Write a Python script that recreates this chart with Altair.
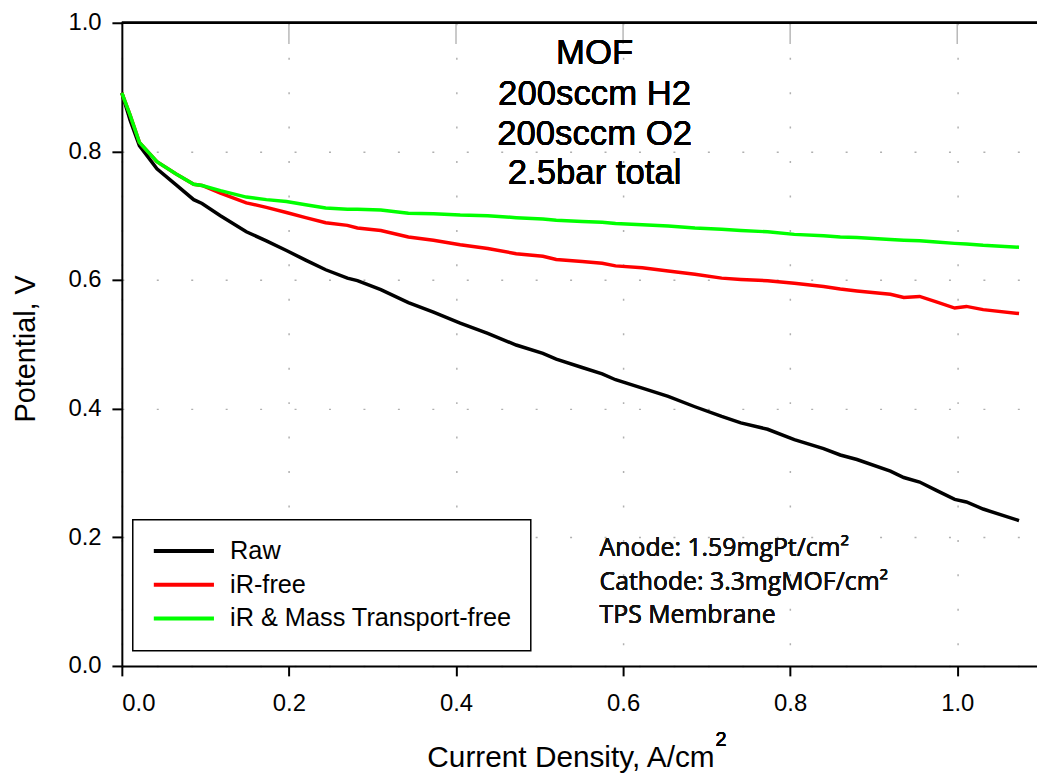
import altair as alt
import pandas as pd

# ---- data ----
current = [0.0, 0.01, 0.021, 0.042, 0.065, 0.086, 0.096, 0.118, 0.149, 0.173,
           0.197, 0.22, 0.244, 0.27, 0.282, 0.31, 0.343, 0.373, 0.405, 0.438,
           0.472, 0.504, 0.52, 0.551, 0.575, 0.591, 0.623, 0.654, 0.686, 0.718,
           0.741, 0.773, 0.805, 0.84, 0.86, 0.88, 0.92, 0.936, 0.955, 0.975,
           0.997, 1.011, 1.031, 1.074]
raw = [0.891, 0.848, 0.809, 0.773, 0.748, 0.725, 0.719, 0.700, 0.675, 0.661,
       0.646, 0.631, 0.616, 0.603, 0.599, 0.585, 0.565, 0.550, 0.533, 0.517,
       0.499, 0.486, 0.477, 0.464, 0.454, 0.445, 0.432, 0.419, 0.403, 0.388,
       0.378, 0.368, 0.352, 0.338, 0.328, 0.321, 0.303, 0.293, 0.286, 0.273,
       0.259, 0.255, 0.244, 0.226]
ir_free = [0.891, 0.856, 0.814, 0.784, 0.765, 0.749, 0.747, 0.735, 0.720, 0.713,
           0.705, 0.697, 0.689, 0.685, 0.681, 0.677, 0.667, 0.662, 0.655, 0.649,
           0.641, 0.637, 0.632, 0.629, 0.626, 0.622, 0.619, 0.614, 0.609, 0.603,
           0.601, 0.599, 0.595, 0.590, 0.586, 0.583, 0.578, 0.573, 0.5745, 0.566,
           0.5565, 0.559, 0.554, 0.548]
ir_mt_free = [0.891, 0.856, 0.814, 0.784, 0.765, 0.749, 0.747, 0.739, 0.729, 0.725,
              0.722, 0.717, 0.712, 0.710, 0.710, 0.709, 0.704, 0.703, 0.701, 0.700,
              0.697, 0.695, 0.693, 0.691, 0.690, 0.688, 0.686, 0.684, 0.681, 0.679,
              0.677, 0.675, 0.671, 0.669, 0.667, 0.666, 0.663, 0.662, 0.661, 0.659,
              0.657, 0.656, 0.654, 0.651]
series_names = ["Raw", "iR-free", "iR & Mass Transport-free"]
series_colors = ["#000000", "#ff0000", "#00ff00"]
x_ticks = [0.0, 0.2, 0.4, 0.6, 0.8, 1.0]
y_ticks = [0.0, 0.2, 0.4, 0.6, 0.8, 1.0]
top_marks = [0.2, 0.4, 0.6, 0.8, 1.0]
note_lines = ["MOF", "200sccm H2", "200sccm O2", "2.5bar total"]
info_lines = ["Anode: 1.59mgPt/cm²", "Cathode: 3.3mgMOF/cm²", "TPS Membrane"]

rows = []
for name, ys in zip(series_names, [raw, ir_free, ir_mt_free]):
    for i, (xv, yv) in enumerate(zip(current, ys)):
        rows.append({"series": name, "order": i, "x": xv, "y": yv})
df = pd.DataFrame(rows)
top_df = pd.DataFrame({"x": top_marks})

FONT = "Liberation Sans"
x_scale = alt.Scale(domain=[0, 1.0955], nice=False, zero=False)
y_scale = alt.Scale(domain=[0, 1.0], nice=False)

x_axis = alt.Axis(values=x_ticks, format=".1f", title="Current Density, A/cm",
                  titleX=307.3, titleY=101.7, titleAlign="left",
                  titleBaseline="alphabetic", titleFontSize=30,
                  labelPadding=16, grid=True)
y_axis = alt.Axis(values=y_ticks, format=".1f", title="Potential, V",
                  titleX=-97, titleY=328, titleBaseline="middle", titleAngle=-90,
                  titleFontSize=29, labelPadding=11, grid=True)

x_enc = alt.X("x:Q", scale=x_scale, axis=x_axis)
y_enc = alt.Y("y:Q", scale=y_scale, axis=y_axis)
color_enc = alt.Color(
    "series:N",
    scale=alt.Scale(domain=series_names, range=series_colors),
    legend=alt.Legend(
        orient="none", legendX=11, legendY=500.7, title=None,
        symbolType="stroke", symbolSize=3672, symbolStrokeWidth=4,
        labelFont=FONT, labelFontSize=25.5, labelColor="black", labelOffset=14,
        labelLimit=600, clipHeight=25, rowPadding=8, padding=19,
        strokeColor="black", fillColor="white",
    ),
)

base = alt.Chart(df)
line_layers = [
    base.transform_filter(alt.datum.series == n)
    .mark_line(strokeWidth=3.5)
    .encode(x=x_enc, y=y_enc, color=color_enc, order="order:Q")
    for n in series_names
]

top_rule = alt.Chart(top_df).mark_rule(color="black", strokeWidth=2).encode(
    y=alt.datum(1.0)
)
top_ticks = alt.Chart(top_df).mark_rule(color="#b8b8b8", strokeWidth=1.5).encode(
    x=x_enc, y=alt.datum(1.0), y2=alt.datum(0.967)
)

note_baselines = [42, 83, 123.5, 162]
note_layers = [
    alt.Chart(top_df).mark_text(font=FONT, fontSize=35, align="center",
                                baseline="alphabetic", color="black")
    .encode(x=alt.value(476.3), y=alt.value(b), text=alt.value(t))
    for t, b in zip(note_lines, note_baselines)
]
info_baselines = [537.3, 571.7, 605]
info_layers = [
    alt.Chart(top_df).mark_text(font="Open Sans", fontSize=25, align="left",
                                baseline="alphabetic", color="#111111")
    .encode(x=alt.value(481.3), y=alt.value(b), text=alt.value(t))
    for t, b in zip(info_lines, info_baselines)
]
# superscript "2" of the x-axis title (A/cm²)
sup_layer = alt.Chart(top_df).mark_text(
    font=FONT, fontSize=20, align="left", baseline="alphabetic", color="black"
).encode(x=alt.value(598), y=alt.value(729), text=alt.value("2"))

chart = alt.layer(
    top_ticks, top_rule, *line_layers, *note_layers, *info_layers, sup_layer
).properties(
    width=922, height=648,
    autosize=alt.AutoSizeParams(type="none"),
    padding={"left": 114.7, "top": 12, "right": 0, "bottom": 110},
).configure_view(stroke=None).configure_axis(
    labelFont=FONT, labelFontSize=24, labelColor="black",
    titleFont=FONT, titleFontSize=28, titleFontWeight="normal", titleColor="black",
    domainColor="black", domainWidth=2, tickColor="black", tickWidth=2, tickSize=10,
    gridColor="#b0b0b0", gridWidth=1.5, gridDash=[2, 32.7],
).configure_legend(strokeWidth=1.5)

chart.save("out.html", embed_options={"renderer": "svg", "actions": False})
